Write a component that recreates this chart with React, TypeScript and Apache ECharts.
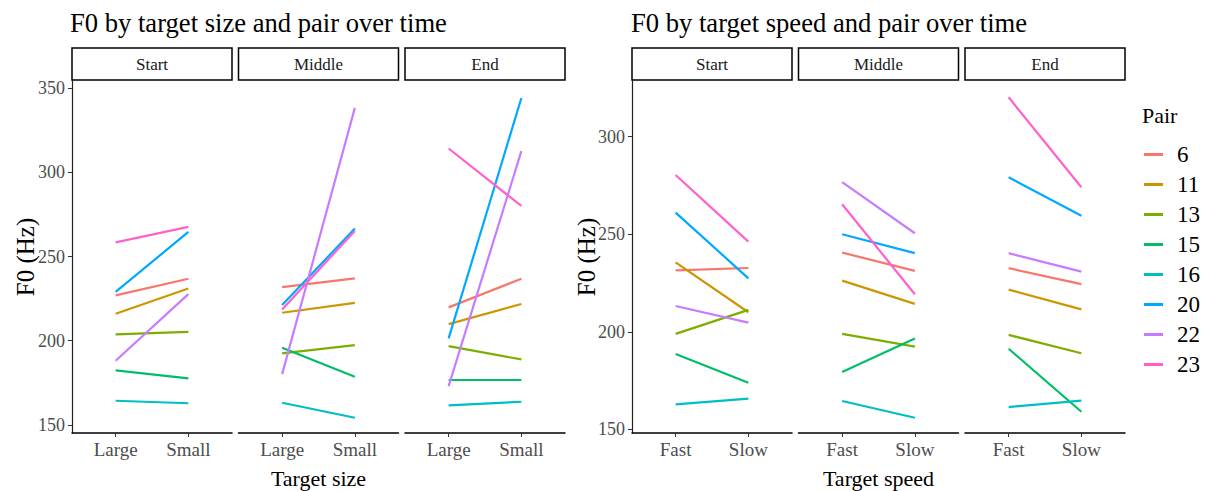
import React, { useEffect, useRef } from "react";
import * as echarts from "echarts";

const pairs = ["6", "11", "13", "15", "16", "20", "22", "23"];
const pairColors = ["#F8766D", "#CD9600", "#7CAE00", "#00BE67", "#00BFC4", "#00A9FF", "#C77CFF", "#FF61CC"];
const timeLabels = ["Start", "Middle", "End"];
const sizeCats = ["Large", "Small"];
const speedCats = ["Fast", "Slow"];
const sizeTicks = [150, 200, 250, 300, 350];
const speedTicks = [150, 200, 250, 300];

// values per pair, order: 6, 11, 13, 15, 16, 20, 22, 23
const sizeStartLarge = [226.9, 216, 203.8, 182.4, 164.4, 229, 188.1, 258.4];
const sizeStartSmall = [236.8, 231, 205.3, 177.7, 162.9, 264.6, 227.7, 267.6];
const sizeMiddleLarge = [231.8, 216.6, 192.5, 195.8, 163.2, 221.2, 180.2, 218.6];
const sizeMiddleSmall = [237, 222.5, 197.4, 178.6, 154.3, 266.6, 338.2, 265.2];
const sizeEndLarge = [219.8, 209.9, 196.8, 176.7, 161.7, 201.4, 173.1, 314.1];
const sizeEndSmall = [236.8, 221.8, 188.9, 176.7, 163.8, 344.1, 312.5, 280];

const speedStartFast = [231.5, 235.6, 198.9, 188.6, 162.8, 261.1, 213.2, 280.4];
const speedStartSlow = [232.7, 210, 211.2, 173.9, 165.7, 227.4, 204.7, 246.2];
const speedMiddleFast = [240.6, 226.2, 198.9, 179.4, 164.5, 250, 276.7, 265.4];
const speedMiddleSlow = [231.2, 214.3, 192.4, 196.5, 155.9, 240.3, 250.5, 219.2];
const speedEndFast = [232.6, 221.6, 198.4, 191.3, 161.4, 279.2, 240.3, 320.2];
const speedEndSlow = [224.4, 211.5, 189, 159, 164.7, 259.5, 230.8, 274.1];

const FONT = "'Liberation Serif', 'DejaVu Serif', serif";

export default function App() {
  const ref = useRef<HTMLDivElement>(null);
  useEffect(() => {
    document.body.style.margin = "0";
    if (!ref.current) return;
    const chart = echarts.init(ref.current, null, { renderer: "svg" });

    const GRID_TOP = 80;
    const GRID_H = 353;
    const PANEL_W = 160;
    const STRIP_TOP = 48;
    const STRIP_H = 32;

    const charts = [
      {
        xs: [72, 238.5, 405],
        cats: sizeCats,
        ticks: sizeTicks,
        min: 145.25,
        max: 354.75,
        panels: [
          [sizeStartLarge, sizeStartSmall],
          [sizeMiddleLarge, sizeMiddleSmall],
          [sizeEndLarge, sizeEndSmall],
        ],
      },
      {
        xs: [632, 798.5, 965],
        cats: speedCats,
        ticks: speedTicks,
        min: 148.1,
        max: 329.07,
        panels: [
          [speedStartFast, speedStartSlow],
          [speedMiddleFast, speedMiddleSlow],
          [speedEndFast, speedEndSlow],
        ],
      },
    ];

    const grid: any[] = [];
    const xAxis: any[] = [];
    const yAxis: any[] = [];
    const series: any[] = [];
    const graphic: any[] = [];

    charts.forEach((c) => {
      c.panels.forEach((p, pi) => {
        const gi = grid.length;
        grid.push({ left: c.xs[pi], top: GRID_TOP, width: PANEL_W, height: GRID_H, containLabel: false });
        const cats = c.cats;
        xAxis.push({
          type: "value",
          gridIndex: gi,
          min: 0.4,
          max: 2.6,
          axisLine: { show: true, lineStyle: { color: "#000", width: 1.5 } },
          axisTick: { show: true, customValues: [1, 2], length: 4, lineStyle: { color: "#333", width: 1 } },
          axisLabel: {
            customValues: [1, 2],
            formatter: (v: number) => cats[Math.round(v) - 1],
            fontFamily: FONT,
            fontSize: 19,
            color: "#4D4D4D",
            margin: 7,
          },
          splitLine: { show: false },
        });
        yAxis.push({
          type: "value",
          gridIndex: gi,
          min: c.min,
          max: c.max,
          show: pi === 0,
          axisLine: { show: true, lineStyle: { color: "#222", width: 1.2 } },
          axisTick: { show: true, customValues: c.ticks, length: 4, lineStyle: { color: "#333", width: 1 } },
          axisLabel: {
            customValues: c.ticks,
            fontFamily: FONT,
            fontSize: 18,
            color: "#4D4D4D",
            margin: 7,
          },
          splitLine: { show: false },
        });
        pairs.forEach((name, k) => {
          series.push({
            type: "line",
            name,
            xAxisIndex: gi,
            yAxisIndex: gi,
            data: [
              [1, p[0][k]],
              [2, p[1][k]],
            ],
            symbol: "none",
            lineStyle: { color: pairColors[k], width: 2.2 },
            itemStyle: { color: pairColors[k] },
            silent: true,
          });
        });
        graphic.push({
          type: "rect",
          shape: { x: c.xs[pi], y: STRIP_TOP, width: PANEL_W, height: STRIP_H },
          style: { fill: "#fff", stroke: "#000", lineWidth: 1.5 },
        });
        graphic.push({
          type: "text",
          x: c.xs[pi] + PANEL_W / 2,
          y: STRIP_TOP + STRIP_H / 2,
          style: {
            text: timeLabels[pi],
            fontFamily: FONT,
            fontSize: 17,
            fill: "#1a1a1a",
            textAlign: "center",
            textVerticalAlign: "middle",
          },
        });
      });
    });

    const texts = [
      { t: "F0 by target size and pair over time", x: 70, y: 23, size: 26.6, align: "left", rot: 0 },
      { t: "F0 by target speed and pair over time", x: 631, y: 23, size: 26.6, align: "left", rot: 0 },
      { t: "Target size", x: 318.5, y: 478, size: 22, align: "center", rot: 0 },
      { t: "Target speed", x: 878.5, y: 478, size: 22, align: "center", rot: 0 },
      { t: "F0 (Hz)", x: 25, y: 257, size: 25, align: "center", rot: Math.PI / 2 },
      { t: "F0 (Hz)", x: 586, y: 257, size: 25, align: "center", rot: Math.PI / 2 },
      { t: "Pair", x: 1142, y: 115, size: 22, align: "left", rot: 0 },
    ];
    texts.forEach((o) => {
      graphic.push({
        type: "text",
        x: o.x,
        y: o.y,
        rotation: o.rot,
        style: {
          text: o.t,
          fontFamily: FONT,
          fontSize: o.size,
          fill: "#000",
          textAlign: o.align,
          textVerticalAlign: "middle",
        },
      });
    });

    chart.setOption({
      animation: false,
      grid,
      xAxis,
      yAxis,
      series,
      legend: {
        data: pairs,
        orient: "vertical",
        left: 1144,
        top: 143,
        padding: 0,
        itemGap: 7,
        itemWidth: 19,
        itemHeight: 3,
        icon: "rect",
        selectedMode: false,
        textStyle: {
          fontFamily: FONT,
          fontSize: 23,
          lineHeight: 23,
          color: "#000",
          padding: [0, 0, 0, 9],
        },
      },
      graphic,
    });

    return () => chart.dispose();
  }, []);

  return <div ref={ref} style={{ width: 1206, height: 491 }} />;
}
